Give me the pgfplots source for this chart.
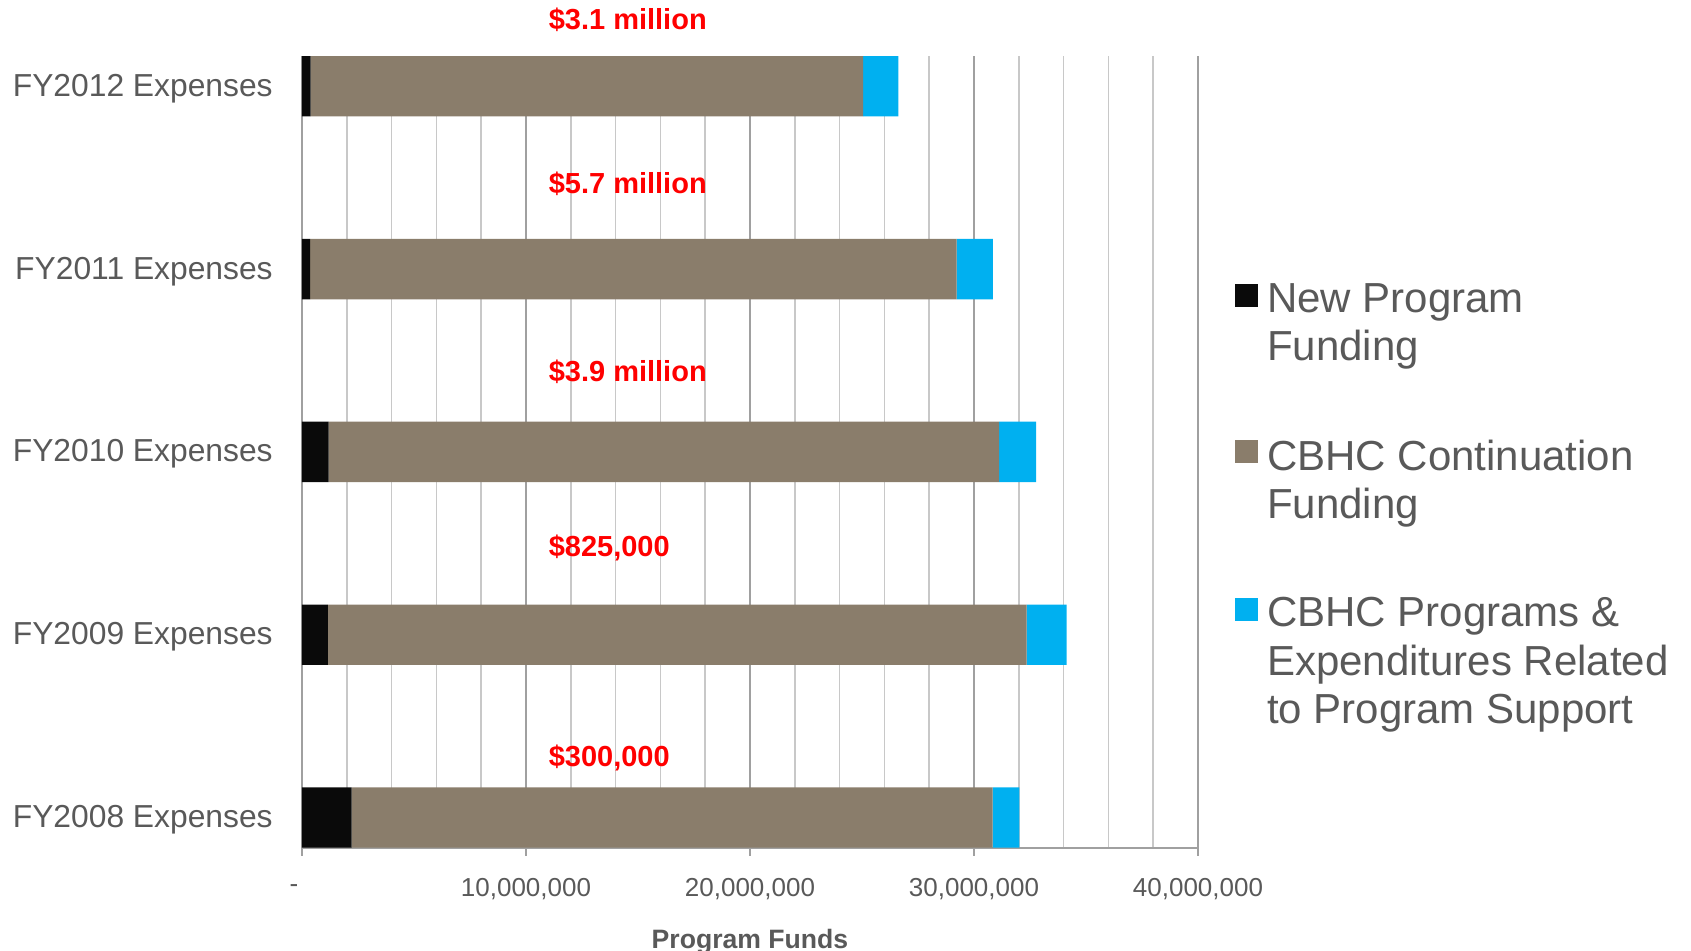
\documentclass[border=0pt]{standalone}
\usepackage{fontspec}
\setmainfont{Liberation Sans}
\usepackage{pgfplots}
\pgfplotsset{compat=1.18}
\definecolor{txt}{HTML}{595959}
\definecolor{newc}{HTML}{0A0A0A}
\definecolor{contc}{HTML}{8A7D6B}
\definecolor{bluec}{HTML}{00B0F0}
\definecolor{majg}{HTML}{A0A0A0}
\definecolor{ming}{HTML}{C8C8C8}
\begin{document}
\begin{tikzpicture}
\path[use as bounding box] (-151pt,-51.5pt) rectangle (694.5pt,424pt);
\begin{axis}[
  at={(0,0)}, anchor=south west,
  scale only axis, width=448pt, height=396pt,
  xbar stacked, bar width=0.33,
  xmin=0, xmax=40000000, ymin=-0.167, ymax=4.166,
  scaled x ticks=false,
  xtick={0,10000000,20000000,30000000,40000000},
  xticklabels={{-\kern8pt},{10,000,000},{20,000,000},{30,000,000},{40,000,000}},
  minor xtick={2000000,4000000,6000000,8000000,12000000,14000000,16000000,18000000,22000000,24000000,26000000,28000000,32000000,34000000,36000000,38000000},
  xmajorgrids, xminorgrids,
  major grid style={draw=majg, line width=0.8pt},
  minor grid style={draw=ming, line width=0.8pt},
  ytick={0,1,2,3,4},
  yticklabels={FY2008 Expenses,FY2009 Expenses,FY2010 Expenses,FY2011 Expenses,FY2012 Expenses},
  axis x line*=bottom, axis y line*=left,
  axis line style={-, draw=majg, line width=0.9pt},
  tick align=outside,
  major tick length=4pt, minor tick length=0pt,
  xtick style={draw=majg, line width=0.8pt},
  ytick style={draw=none},
  xticklabel style={font=\fontsize{13}{15.6}\selectfont, text=txt, anchor=center, yshift=-16.3pt},
  yticklabel style={font=\fontsize{15.9}{19}\selectfont, text=txt, anchor=base east, inner sep=0pt, xshift=-10.45pt, yshift=-5pt},
  xlabel={Program Funds},
  xlabel style={at={(axis description cs:0.5,0)}, anchor=center, yshift=-46.6pt, font=\bfseries\fontsize{13.3}{16}\selectfont, text=txt},
  clip=false,
  legend cell align=left,
  legend style={at={(1.0407,0.7138)}, anchor=north west, draw=none, fill=none, inner sep=0pt,
    row sep=37.8pt, column sep=4.4pt, font=\fontsize{21}{24.15}\selectfont, text=txt,
    nodes={align=left, inner sep=0pt}, cells={anchor=north west}},
]
\addplot[fill=newc, draw=none, legend image code/.code={\fill[newc] (0pt,-12.1pt) rectangle (11.7pt,-0.4pt);}]
  coordinates {(2220000,0) (1150000,1) (1190000,2) (360000,3) (380000,4)};
\addlegendentry{New Program\\Funding}
\addplot[fill=contc, draw=none, legend image code/.code={\fill[contc] (0pt,-12.1pt) rectangle (11.7pt,-0.4pt);}]
  coordinates {(28610000,0) (31200000,1) (29930000,2) (28860000,3) (24670000,4)};
\addlegendentry{CBHC Continuation\\Funding}
\addplot[fill=bluec, draw=none, legend image code/.code={\fill[bluec] (0pt,-12.1pt) rectangle (11.7pt,-0.4pt);}]
  coordinates {(1190000,0) (1790000,1) (1650000,2) (1620000,3) (1570000,4)};
\addlegendentry{CBHC Programs \&\\Expenditures Related\\to Program Support}
\node[anchor=west, inner sep=0pt, text=red, font=\bfseries\fontsize{14.5}{17}\selectfont] at (axis cs:11000000,4.363) {\$3.1 million};
\node[anchor=west, inner sep=0pt, text=red, font=\bfseries\fontsize{14.5}{17}\selectfont] at (axis cs:11000000,3.467) {\$5.7 million};
\node[anchor=west, inner sep=0pt, text=red, font=\bfseries\fontsize{14.5}{17}\selectfont] at (axis cs:11000000,2.439) {\$3.9 million};
\node[anchor=west, inner sep=0pt, text=red, font=\bfseries\fontsize{14.5}{17}\selectfont] at (axis cs:11000000,1.472) {\$825,000};
\node[anchor=west, inner sep=0pt, text=red, font=\bfseries\fontsize{14.5}{17}\selectfont] at (axis cs:11000000,0.328) {\$300,000};
\end{axis}
\end{tikzpicture}
\end{document}
